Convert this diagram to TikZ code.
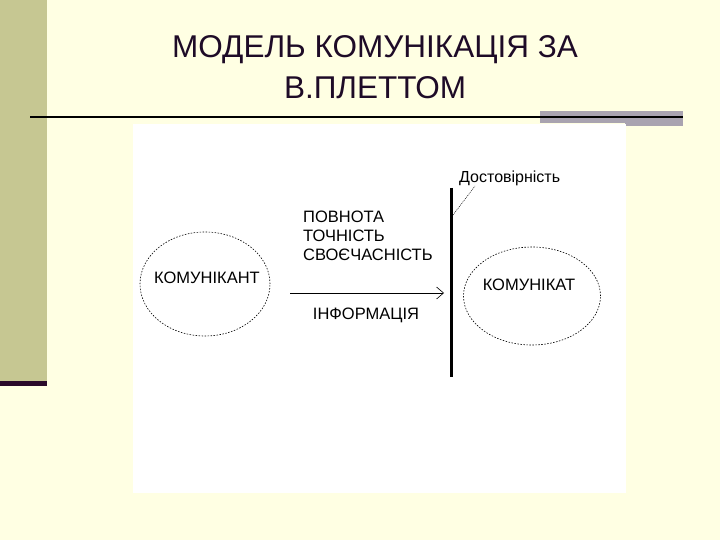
\documentclass[tikz,border=0pt]{standalone}
\usepackage{fontspec}
\setmainfont{Liberation Sans}
\usetikzlibrary{arrows.meta,shapes.geometric}
\definecolor{bgcream}{HTML}{FFFFE3}
\definecolor{bandolive}{HTML}{C6C792}
\definecolor{titlepurple}{HTML}{1E0B27}
\definecolor{barpurple}{HTML}{2A0A2A}
\definecolor{bargray}{HTML}{A9A3B0}
\tikzset{
  lbl/.style={font=\fontsize{16.5}{18}\selectfont, text=black, inner sep=0pt},
  ttl/.style={font=\fontsize{31.5}{41}\selectfont, text=titlepurple, align=center, inner sep=0pt},
  ell/.style={draw=black, dash pattern=on 1.5pt off 1.5pt, line width=0.6pt},
}
\begin{document}
\begin{tikzpicture}[x=1pt,y=-1pt]
\useasboundingbox (0,0) rectangle (720,540);
\fill[bgcream] (0,0) rectangle (720,540);
\fill[bandolive] (0,0) rectangle (47,382);
\fill[barpurple] (0,381) rectangle (47,386);
% title
\node[ttl] (title) at (375,67) {МОДЕЛЬ КОМУНІКАЦІЯ ЗА\\В.ПЛЕТТОМ};
% rule
\fill[bargray] (540,111) rectangle (683,123);
\fill[bargray] (625,111) rectangle (683,126);
\draw[line width=2pt, black] (30,117) -- (683,117);
% white picture area
\fill[white] (133,124) rectangle (626,493);
% diagram
\node[ell, ellipse, minimum width=130, minimum height=104] (sender) at (205,284) {};
\node[lbl] (t1) at (207,278) {КОМУНІКАНТ};
\node[ell, ellipse, minimum width=137, minimum height=98] (recv) at (532,296) {};
\node[lbl] (t2) at (529,285) {КОМУНІКАТ};
\coordinate (a1) at (290,293);
\coordinate (a2) at (444,293);
\draw[line width=0.6pt, -{Straight Barb[length=7pt,width=12pt,line width=0.6pt]}] (a1) -- (a2);
\node[lbl] (info) at (366,315) {ІНФОРМАЦІЯ};
\node[lbl, anchor=west] (q1) at (303,217) {ПОВНОТА};
\node[lbl, anchor=west] (q2) at (303,236) {ТОЧНІСТЬ};
\node[lbl, anchor=west] (q3) at (303,255) {СВОЄЧАСНІСТЬ};
\coordinate (vtop) at (451,188);
\coordinate (vbot) at (451,377);
\draw[line width=3pt] (vtop) -- (vbot);
\node[font=\fontsize{16}{18}\selectfont, inner sep=0pt, anchor=west] (dost) at (459,178) {Достовірність};
\coordinate (l1) at (453,215);
\coordinate (l2) at (475,186);
\draw[line width=0.5pt, dash pattern=on 1pt off 1pt] (l1) -- (l2);
\end{tikzpicture}
\end{document}
